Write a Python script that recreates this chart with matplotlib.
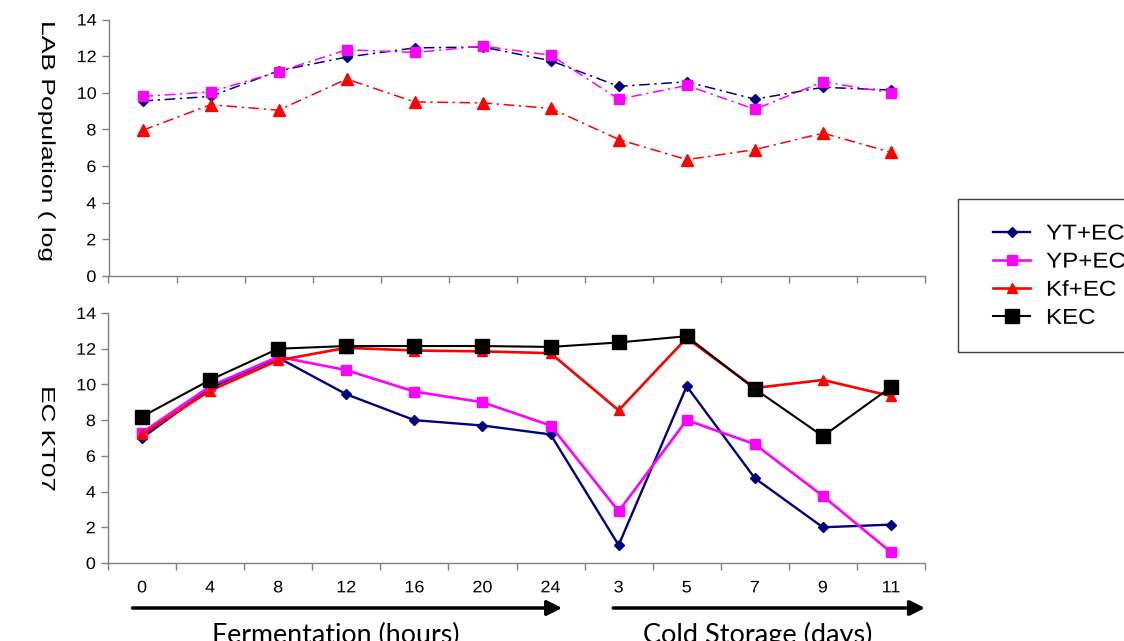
import numpy as np
import matplotlib.pyplot as plt
from matplotlib.patheffects import AbstractPathEffect
from matplotlib.transforms import Affine2D, blended_transform_factory
from matplotlib.patches import Rectangle

# sampling points: fermentation hours, then cold storage days
x_labels = ['0', '4', '8', '12', '16', '20', '24', '3', '5', '7', '9', '11']

# LAB population (log cfu/ml)
lab_yt = [9.55, 9.8, 11.2, 11.95, 12.45, 12.5, 11.75, 10.35, 10.6, 9.65, 10.3, 10.15]
lab_yp = [9.8, 10.05, 11.15, 12.35, 12.2, 12.55, 12.05, 9.65, 10.4, 9.1, 10.6, 10.0]
lab_kf = [7.95, 9.35, 9.05, 10.75, 9.5, 9.45, 9.15, 7.45, 6.35, 6.9, 7.8, 6.75]

# EC KT07 population (log cfu/ml)
ec_yt = [7.0, 9.8, 11.5, 9.45, 8.0, 7.7, 7.2, 1.0, 9.9, 4.75, 2.0, 2.15]
ec_yp = [7.3, 9.9, 11.55, 10.8, 9.6, 9.0, 7.7, 2.9, 8.0, 6.65, 3.75, 0.6]
ec_kf = [7.2, 9.65, 11.35, 12.05, 11.9, 11.85, 11.75, 8.55, 12.6, 9.8, 10.25, 9.35]
ec_kec = [8.2, 10.25, 12.0, 12.15, 12.15, 12.15, 12.1, 12.35, 12.7, 9.75, 7.1, 9.85]

series_names = ['YT+EC', 'YP+EC', 'Kf+EC', 'KEC']


class Stretch(AbstractPathEffect):
    """Widen glyphs along the baseline around a fixed point of the ink box
    (anchor 0 = left end, 0.5 = centre)."""
    def __init__(self, sx, anchor=0.5):
        super().__init__()
        self.sx = sx
        self.anchor = anchor

    def draw_path(self, renderer, gc, tpath, affine, rgbFace=None):
        ext = tpath.get_extents()
        cx = ext.x0 + self.anchor * (ext.x1 - ext.x0)
        tr = Affine2D().translate(-cx, 0).scale(self.sx, 1).translate(cx, 0) + affine
        renderer.draw_path(gc, tpath, tr, rgbFace)


W, H = 1124, 641
fig = plt.figure(figsize=(W / 100, H / 100), dpi=100)
plt.rcParams['font.family'] = ['Liberation Sans', 'DejaVu Sans']


def add_px_axes(left, top, right, bottom):
    return fig.add_axes([left / W, 1 - bottom / H, (right - left) / W, (bottom - top) / H])


ax1 = add_px_axes(108.5, 19.5, 925, 276)
ax2 = add_px_axes(108, 313, 925, 563)

x = np.arange(len(x_labels))
gray = '#808080'

for ax in (ax1, ax2):
    ax.set_xlim(-0.5, len(x_labels) - 0.5)
    ax.set_ylim(0, 14)
    ax.set_yticks(np.arange(0, 15, 2))
    ax.spines['top'].set_visible(False)
    ax.spines['right'].set_visible(False)
    for s in ('left', 'bottom'):
        ax.spines[s].set_color(gray)
        ax.spines[s].set_linewidth(1.0)
    ax.tick_params(axis='y', direction='out', length=5, width=1, color=gray,
                   labelsize=12, pad=4)
    # category ticks sit between points
    ax.set_xticks(x)
    ax.set_xticks(np.arange(-0.5, len(x_labels)), minor=True)
    ax.tick_params(axis='x', which='major', length=0, labelsize=12, pad=12.5)
    ax.tick_params(axis='x', which='minor', direction='out', length=5, width=1, color=gray)

ax1.set_xticklabels([])
ax2.set_xticklabels(x_labels)

for ax in (ax1, ax2):
    for lab in ax.get_yticklabels() + ax.get_xticklabels():
        lab.set_path_effects([Stretch(1.08)])

# top panel: dash-dot lines
dd = dict(lw=1.1, dashes=(7, 3, 1.5, 3))
ax1.plot(x, lab_yt, color='#000080', marker='D', ms=4.8, **dd)
ax1.plot(x, lab_yp, color='#FF00FF', marker='s', ms=7, **dd)
ax1.plot(x, lab_kf, color='#FF0000', marker='^', ms=8, **dd)

# bottom panel: solid lines
ax2.plot(x, ec_yt, color='#000080', marker='D', ms=4.8, lw=1.7, label=series_names[0])
ax2.plot(x, ec_yp, color='#FF00FF', marker='s', ms=6.5, lw=1.9, label=series_names[1])
ax2.plot(x, ec_kf, color='#FF0000', marker='^', ms=7.5, lw=1.9, label=series_names[2])
ax2.plot(x, ec_kec, color='black', marker='s', ms=9.5, lw=1.5, label=series_names[3])

# y labels
fig.text(42 / W, 1 - 141 / H, 'LAB Population ( log', rotation=270, rotation_mode='anchor',
         ha='center', va='baseline', fontsize=13.6, path_effects=[Stretch(1.4)])
fig.text(42 / W, 1 - 439 / H, 'EC KT07', rotation=270, rotation_mode='anchor',
         ha='center', va='baseline', fontsize=13.6, path_effects=[Stretch(1.38)])

# legend with a separate frame running off the right edge
handles, labels = ax2.get_legend_handles_labels()
leg = fig.legend(handles, labels, loc='upper left', bbox_to_anchor=(993 / W, 1 - 223.5 / H),
                 frameon=False, borderpad=0, borderaxespad=0, handlelength=1.72,
                 handletextpad=0.75, labelspacing=0.33, prop={'size': 15.5})
for t in leg.get_texts():
    t.set_path_effects([Stretch(1.12, anchor=0)])
fig.patches.append(Rectangle((958 / W, 1 - 352 / H), 200 / W, 153 / H,
                             transform=fig.transFigure, fill=False, ec='#404040', lw=1))

# phase arrows under the x axis
blend = blended_transform_factory(ax2.transData, fig.transFigure)
arrow_y = 1 - 608 / H
for x0, x1 in [(-0.14, 6.17), (6.92, 11.5)]:
    ax2.annotate('', xy=(x1, arrow_y), xytext=(x0, arrow_y), xycoords=blend, textcoords=blend,
                 arrowprops=dict(arrowstyle='-|>,head_length=0.9,head_width=0.45', lw=2.5,
                                 color='black', mutation_scale=10, shrinkA=0, shrinkB=0),
                 annotation_clip=False)

fig.text(336 / W, 1 - 643 / H, 'Fermentation (hours)', ha='center', va='baseline',
         fontsize=19.3, family='Lato')
fig.text(758 / W, 1 - 643 / H, 'Cold Storage (days)', ha='center', va='baseline',
         fontsize=19.5, family='Lato')

fig.savefig('out.png', dpi=100)
